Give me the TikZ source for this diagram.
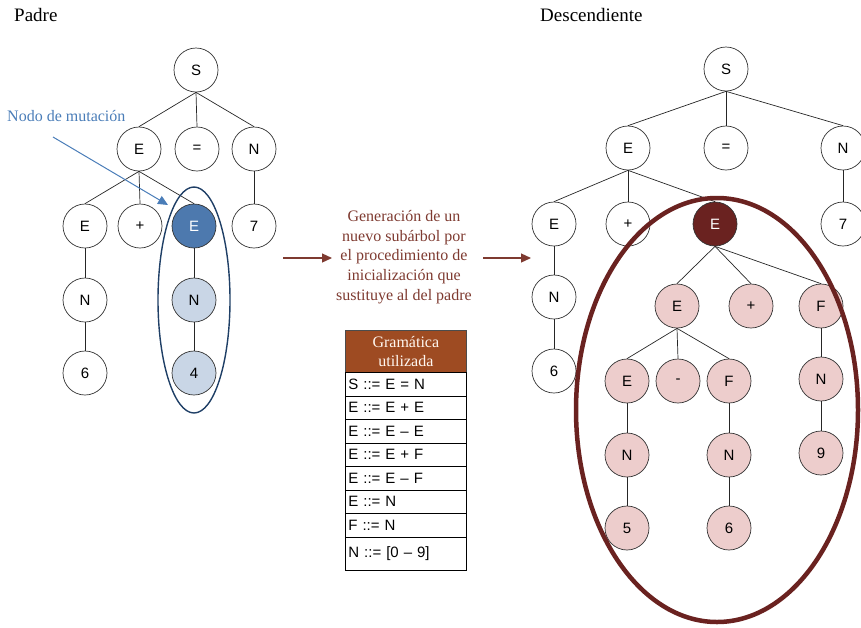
\documentclass[tikz,border=0pt]{standalone}
\usepackage{fontspec}
\setmainfont{Liberation Serif}
\newfontfamily\arialf{Liberation Sans}
\usetikzlibrary{arrows.meta}

\definecolor{mutblue}{HTML}{4D79AE}
\definecolor{subblue}{HTML}{C9D6E6}
\definecolor{navyring}{HTML}{1F3F66}
\definecolor{labelblue}{HTML}{4A7DB8}
\definecolor{maroon}{HTML}{6A2220}
\definecolor{pinkfill}{HTML}{EDCDCC}
\definecolor{notered}{HTML}{7E3A30}
\definecolor{headbrown}{HTML}{9E4B22}

\tikzset{
  tnode/.style={circle, draw=black!80, line width=0.7pt, fill=white,
    minimum size=44pt, inner sep=0pt, font=\arialf\fontsize{15}{18}\selectfont},
  mutnode/.style={tnode, fill=mutblue, text=white},
  subnode/.style={tnode, fill=subblue},
  newroot/.style={tnode, fill=maroon, text=white!90},
  newnode/.style={tnode, fill=pinkfill},
  edge/.style={draw=black!85, line width=0.7pt},
  redarrow/.style={draw=notered, line width=1.2pt, -{Triangle[length=10pt,width=9pt]}},
  heading/.style={font=\fontsize{19}{22}\selectfont, anchor=base west, inner sep=0pt},
  rowbox/.style={draw=black, line width=0.7pt, anchor=north west, text width=115pt,
    inner xsep=3pt, inner ysep=0pt, minimum height=23.5pt, align=left,
    font=\arialf\fontsize{15}{18}\selectfont},
}

\begin{document}
\begin{tikzpicture}[x=1pt,y=-1pt]
\useasboundingbox (0,0) rectangle (861,627);

% headings
\node[heading] (hpadre) at (14,21) {Padre};
\node[heading] (hdesc) at (540,21) {Descendiente};

% ---------- parent tree ----------
\node[tnode] (lS) at (196,70) {S};
\node[tnode] (lE) at (139,149) {E};
\node[tnode] (lEq) at (197,149) {=};
\node[tnode] (lN) at (254,149) {N};
\node[tnode] (lE2) at (85,226) {E};
\node[tnode] (lPlus) at (140,226) {+};
\node[mutnode] (lEm) at (194,226) {E};
\node[tnode] (l7) at (254,226) {7};
\node[tnode] (lN2) at (85,300) {N};
\node[subnode] (lNm) at (194,300) {N};
\node[tnode] (l6) at (85,373) {6};
\node[subnode] (l4) at (194,373) {4};

\foreach \c in {lE,lEq,lN} \draw[edge] (lS.south) -- (\c.north);
\foreach \c in {lE2,lPlus,lEm} \draw[edge] (lE.south) -- (\c.north);
\draw[edge] (lN) -- (l7);
\draw[edge] (lE2) -- (lN2);
\draw[edge] (lN2) -- (l6);
\draw[edge] (lEm) -- (lNm);
\draw[edge] (lNm) -- (l4);

% ring around the mutated subtree
\draw[navyring, line width=1.4pt] (lNm) ellipse [x radius=36, y radius=113];

% mutation label and pointer
\node[font=\fontsize{16}{19}\selectfont, text=labelblue, anchor=base west, inner sep=0pt]
  (mutlabel) at (7,121) {Nodo de mutación};
\coordinate (mutstart) at (53,137);
\coordinate (mutend) at (168,205);
\draw[labelblue, line width=1pt, -{Triangle[length=10pt,width=9pt]}] (mutstart) -- (mutend);

% ---------- middle: process note and grammar ----------
\node[text=notered, font=\fontsize{16}{19.7}\selectfont, align=center, inner sep=0pt]
  (gen) at (404,257) {Generación de un\\nuevo subárbol por\\el procedimiento de\\inicialización que\\sustituye al del padre};
\coordinate (arrLa) at (283,258);
\coordinate (arrLb) at (332,258);
\coordinate (arrRa) at (483,258);
\coordinate (arrRb) at (531,258);
\draw[redarrow] (arrLa) -- (arrLb);
\draw[redarrow] (arrRa) -- (arrRb);

\node[draw=black!70, line width=0.7pt, fill=headbrown, text=white!94!orange,
  anchor=north west, minimum width=121pt, minimum height=42pt, inner sep=0pt,
  align=center, font=\fontsize{16}{19}\selectfont]
  (ghead) at (345,330) {Gramática\\utilizada};
\node[rowbox] (g1) at (345,372) {S ::= E = N};
\node[rowbox] (g2) at (345,395.5) {E ::= E + E};
\node[rowbox] (g3) at (345,419) {E ::= E – E};
\node[rowbox] (g4) at (345,442.5) {E ::= E + F};
\node[rowbox] (g5) at (345,466) {E ::= E – F};
\node[rowbox] (g6) at (345,489.5) {E ::= N};
\node[rowbox] (g7) at (345,513) {F ::= N};
\node[rowbox, minimum height=33pt] (g8) at (345,536.5) {N ::= [0 – 9]};

% ---------- offspring tree ----------
\node[tnode] (rS) at (726,69) {S};
\node[tnode] (rE) at (628,148) {E};
\node[tnode] (rEq) at (726,148) {=};
\node[tnode] (rN) at (843,148) {N};
\node[tnode] (rE2) at (554,224) {E};
\node[tnode] (rPlus) at (628,224) {+};
\node[newroot] (rEm) at (715,224) {E};
\node[tnode] (r7) at (843,224) {7};
\node[tnode] (rN2) at (554,297) {N};
\node[tnode] (r6) at (554,371) {6};

\node[newnode] (pE) at (677,306) {E};
\node[newnode] (pPlus) at (751,306) {+};
\node[newnode] (pF) at (821,306) {F};
\node[newnode] (pE2) at (627,381) {E};
\node[newnode] (pMinus) at (678,381) {-};
\node[newnode] (pF2) at (729,381) {F};
\node[newnode] (pN9) at (821,379) {N};
\node[newnode] (pN5) at (627,455) {N};
\node[newnode] (pN6) at (729,455) {N};
\node[newnode] (p9) at (821,453) {9};
\node[newnode] (p5) at (627,528) {5};
\node[newnode] (p6) at (729,528) {6};

\foreach \c in {rE,rEq,rN} \draw[edge] (rS.south) -- (\c.north);
\foreach \c in {rE2,rPlus,rEm} \draw[edge] (rE.south) -- (\c.north);
\draw[edge] (rN) -- (r7);
\draw[edge] (rE2) -- (rN2);
\draw[edge] (rN2) -- (r6);
\foreach \c in {pE,pPlus,pF} \draw[edge] (rEm.south) -- (\c.north);
\foreach \c in {pE2,pMinus,pF2} \draw[edge] (pE.south) -- (\c.north);
\draw[edge] (pF) -- (pN9);
\draw[edge] (pN9) -- (p9);
\draw[edge] (pE2) -- (pN5);
\draw[edge] (pN5) -- (p5);
\draw[edge] (pF2) -- (pN6);
\draw[edge] (pN6) -- (p6);

% ring around the new subtree
\coordinate (ringc) at (717,410);
\draw[maroon, line width=4.5pt] (ringc) ellipse [x radius=141, y radius=212];
\end{tikzpicture}
\end{document}
